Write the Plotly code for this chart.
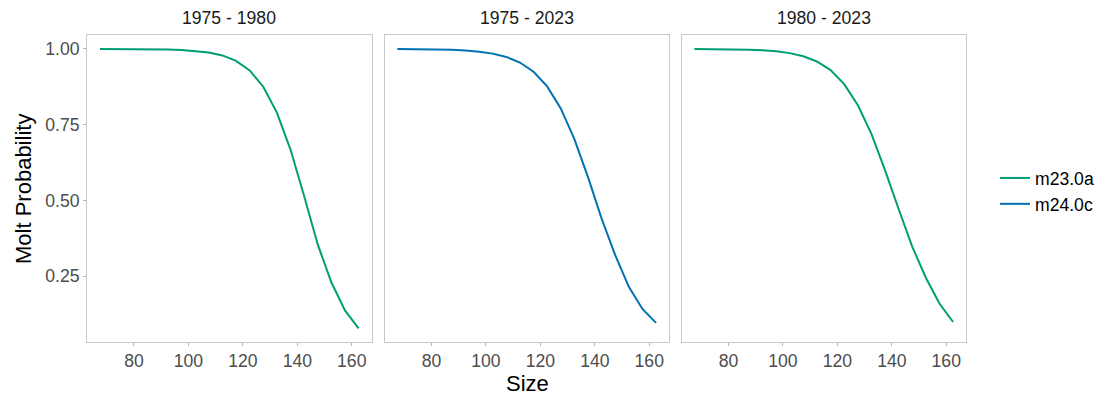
import plotly.graph_objects as go

sizes = [67.5, 72.5, 77.5, 82.5, 87.5, 92.5, 97.5, 102.5, 107.5, 112.5,
         117.5, 122.5, 127.5, 132.5, 137.5, 142.5, 147.5, 152.5, 157.5, 162.5]

panels = ["1975 - 1980", "1975 - 2023", "1980 - 2023"]
models = ["m23.0a", "m24.0c", "m23.0a"]

molt_1975_1980 = [0.9999, 0.9998, 0.9997, 0.9995, 0.9990, 0.9982, 0.9967, 0.9938, 0.9885, 0.9787,
                  0.9608, 0.9292, 0.8754, 0.7900, 0.6680, 0.5150, 0.3550, 0.2300, 0.1370, 0.0780]
molt_1975_2023 = [0.9997, 0.9994, 0.9990, 0.9983, 0.9970, 0.9948, 0.9911, 0.9846, 0.9736, 0.9552,
                  0.9248, 0.8765, 0.8037, 0.7026, 0.5770, 0.4400, 0.3200, 0.2150, 0.1420, 0.0960]
molt_1980_2023 = [0.9997, 0.9995, 0.9991, 0.9985, 0.9974, 0.9955, 0.9921, 0.9862, 0.9760, 0.9586,
                  0.9300, 0.8840, 0.8150, 0.7200, 0.6000, 0.4720, 0.3480, 0.2450, 0.1600, 0.0990]
series = [molt_1975_1980, molt_1975_2023, molt_1980_2023]

x_ticks = [80, 100, 120, 140, 160]
y_ticks = [0.25, 0.50, 0.75, 1.00]
y_tick_labels = ["0.25", "0.50", "0.75", "1.00"]

colors = {"m23.0a": "#009E73", "m24.0c": "#0072B2"}

# the page body adds an 8px margin; target screen pixels are shifted by OFF
OFF = 8
W, H = 1105 - OFF, 400 - OFF
L, R, T, B = 87 - OFF, 966 - OFF, 35 - OFF, 342 - OFF   # plot area in figure pixels
PW, PH = R - L, B - T
px_domains = [(87, 371.5), (384.5, 669), (681.5, 966)]   # screen pixels


def fx(px):
    return (px - OFF - L) / PW


def fy(py):
    return (B - (py - OFF)) / PH


fig = go.Figure()
shown = set()
layout = {}
for i, (name, model, vals) in enumerate(zip(panels, models, series)):
    sfx = "" if i == 0 else str(i + 1)
    fig.add_trace(go.Scatter(
        x=sizes, y=vals, mode="lines", name=model,
        line=dict(color=colors[model], width=2),
        xaxis="x" + sfx, yaxis="y" + sfx,
        showlegend=model not in shown, legendgroup=model,
    ))
    shown.add(model)
    d0, d1 = px_domains[i]
    layout["xaxis" + sfx] = dict(
        domain=[max(0, fx(d0)), min(1, fx(d1))], range=[62.75, 167.25], anchor="y" + sfx,
        tickvals=x_ticks, ticks="outside", ticklen=3, tickcolor="#B3B3B3",
        tickfont=dict(size=17.6, color="#4D4D4D"),
        showline=True, mirror=True, linecolor="#C8C8C8", linewidth=1,
        showgrid=False, zeroline=False, automargin=False,
    )
    layout["yaxis" + sfx] = dict(
        domain=[0, 1], range=[0.033, 1.046], anchor="x" + sfx,
        tickvals=y_ticks, ticktext=y_tick_labels,
        ticks="outside" if i == 0 else "", ticklen=3, tickcolor="#B3B3B3",
        showticklabels=(i == 0),
        tickfont=dict(size=17.6, color="#4D4D4D"),
        showline=True, mirror=True, linecolor="#C8C8C8", linewidth=1,
        showgrid=False, zeroline=False, automargin=False,
    )

annotations = []
for i, name in enumerate(panels):
    d0, d1 = px_domains[i]
    annotations.append(dict(
        text=name, x=fx((d0 + d1) / 2), y=fy(18), xref="paper", yref="paper",
        xanchor="center", yanchor="middle", showarrow=False,
        font=dict(size=17.6, color="#1A1A1A"),
    ))
annotations.append(dict(
    text="Size", x=fx(527), y=fy(383), xref="paper", yref="paper",
    xanchor="center", yanchor="middle", showarrow=False,
    font=dict(size=22, color="#000000"),
))
annotations.append(dict(
    text="Molt Probability", x=fx(23), y=fy(189), xref="paper", yref="paper",
    xanchor="center", yanchor="middle", showarrow=False, textangle=-90,
    font=dict(size=22, color="#000000"),
))

fig.update_layout(
    width=W, height=H,
    margin=dict(l=L, r=W - R, t=T, b=H - B, autoexpand=False),
    paper_bgcolor="white", plot_bgcolor="white",
    font=dict(family="Liberation Sans, Arial, sans-serif"),
    legend=dict(x=fx(995), y=fy(191), xanchor="left", yanchor="middle",
                font=dict(size=17.6, color="#000000"), bgcolor="rgba(0,0,0,0)",
                tracegroupgap=0),
    annotations=annotations,
    **layout,
)

fig.write_html("out.html")
